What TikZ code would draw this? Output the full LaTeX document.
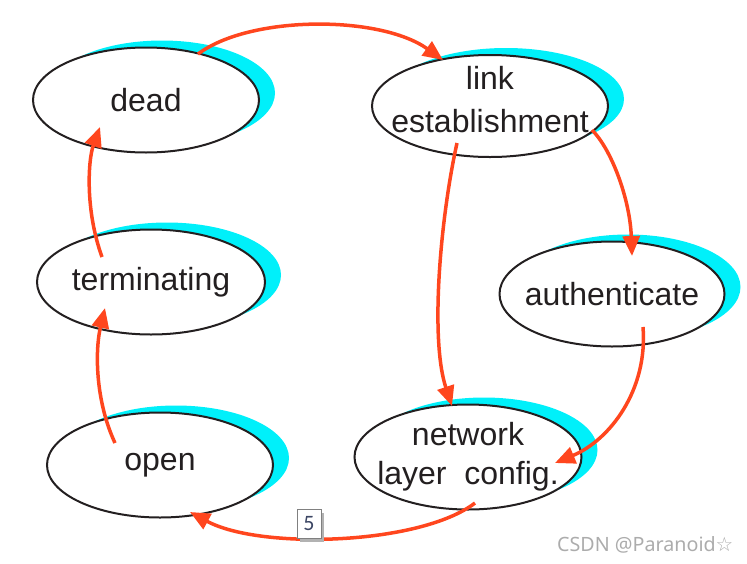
\documentclass[tikz,border=0pt]{standalone}
\usepackage{fontspec}
\usepackage{tikz}
\usetikzlibrary{shapes.geometric,shadows,arrows.meta}
\setmainfont{Liberation Sans}
\newfontfamily\markfont{Noto Sans}
\newfontfamily\starfont{DejaVu Sans}
\newfontfamily\pagefont{Carlito}
\definecolor{ink}{RGB}{35,31,32}
\definecolor{flow}{RGB}{255,70,30}
\definecolor{halo}{RGB}{0,240,250}
\definecolor{pagenum}{RGB}{60,70,100}

\begin{document}
\begin{tikzpicture}[x=1pt,y=-1pt
  ,state/.style={ellipse,draw=ink,line width=2pt,fill=white,text=ink
                ,minimum width=226pt,minimum height=105pt
                ,inner xsep=-30pt,inner ysep=-25pt
                ,align=center,font=\fontsize{32}{43}\selectfont
                ,general shadow={fill=halo,shadow xshift=16pt,shadow yshift=7pt}}
  ,trans/.style={draw=flow,line width=3.5pt
                ,-{Triangle[length=20pt,width=17pt]}}]
  \useasboundingbox (0,0) rectangle (747,563);

  %% left column: dead / terminating / open
  \node (00) [state] at (146,100) {dead};
  \node (01) [state,minimum width=228pt] at (151,282) {terminating};
  \node (02) [state] at (160,465) {open};

  %% right side: link / authenticate / network
  \node (10) [state,minimum width=236pt,minimum height=102pt,text depth=14pt]
             at (490,106) {link\\establishment};
  \node (21) [state,minimum width=225pt] at (612,294) {authenticate};
  \node (12) [state,minimum width=227pt,font=\fontsize{32}{39}\selectfont]
             at (468,457) {network\\layer\ \ config.};

  \draw[trans] ([shift={(52,-46)}]00.center)
    .. controls +(52,-39) and +(-63,-45) .. ([shift={(-47,-46)}]10.center);
  \draw[trans] ([shift={(102,24)}]10.center)
    .. controls +(20,20) and +(-2,-56) .. ([shift={(20,-38)}]21.center);
  \draw[trans] ([shift={(-33,37)}]10.center)
    .. controls +(-17,77) and +(-22,-66) .. ([shift={(-16,-51)}]12.center);
  \draw[trans] ([shift={(31,33)}]21.center)
    .. controls +(5,63) and +(55,-23) .. ([shift={(87,6)}]12.center);
  \draw[trans] ([shift={(7,46)}]12.center)
    .. controls +(-55,42) and +(70,38) .. ([shift={(30,47)}]02.center);
  \draw[trans] ([shift={(-45,-22)}]02.center)
    .. controls +(-20,-43) and +(-10,42) .. ([shift={(-46,26)}]01.center);
  \draw[trans] ([shift={(-49,-25)}]01.center)
    .. controls +(-17,-47) and +(-12,33) .. ([shift={(-46,27)}]00.center);

  %% page mark and watermark
  \node (pg) [draw=gray,fill=white,minimum width=24pt,minimum height=29pt
             ,inner sep=0pt,general shadow={fill=gray!60,shadow xshift=3pt,shadow yshift=-3pt}]
             at (309,524) {\pagefont\fontsize{22}{22}\selectfont\color{pagenum}5};
  \node (wm) [anchor=west,inner sep=0pt,text=gray!65]
             at (557,545) {\markfont\fontsize{19.7}{20}\selectfont CSDN @Paranoid\starfont ☆};
\end{tikzpicture}
\end{document}
